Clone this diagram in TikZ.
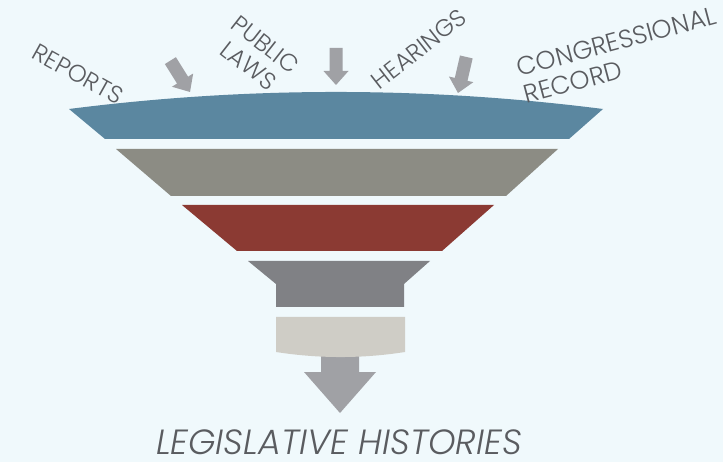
\documentclass[tikz,border=0pt]{standalone}
\usepackage{fontspec}
\newfontfamily\lblfont{Poppins Light}
\newfontfamily\lblitfont{Poppins Light Italic}
\definecolor{bgc}{RGB}{240,249,252}
\definecolor{bandblue}{RGB}{91,135,160}
\definecolor{bandgray}{RGB}{140,140,132}
\definecolor{bandred}{RGB}{139,58,51}
\definecolor{banddark}{RGB}{128,129,133}
\definecolor{bandlight}{RGB}{207,205,198}
\definecolor{arrowgray}{RGB}{160,161,165}
\definecolor{txt}{RGB}{90,92,96}
\tikzset{
  lbl/.style={font=\lblfont\fontsize{24}{27}\selectfont, text=txt, inner sep=0pt, align=center},
  inarrow/.style={fill=arrowgray},
}
\begin{document}
\begin{tikzpicture}[x=1pt,y=-1pt]
\fill[bgc] (0,0) rectangle (723,462);
\useasboundingbox (0,0) rectangle (723,462);
% funnel bands
\fill[bandblue] (69,109) .. controls (247,86.3) and (425,86.3) .. (603,109) -- (569,139) -- (105,139) -- cycle;
\fill[bandgray] (116,149) -- (558,149) -- (506,196) -- (171,196) -- cycle;
\fill[bandred] (182,205) -- (494,205) -- (442,251) -- (237,251) -- cycle;
\fill[banddark] (248,261) -- (430,261) -- (404,284) -- (404,307) -- (276,307) -- (276,284) -- cycle;
% output arrow
\fill[arrowgray] (321,350) -- (359,350) -- (359,372) -- (376,372) -- (340,413) -- (304,372) -- (321,372) -- cycle;
\fill[bandlight] (276,317) -- (405,317) -- (405,352) .. controls (362,358.7) and (319,358.7) .. (276,352) -- cycle;
% input arrows
\foreach \px/\py/\ang in {190/92/32, 336/85/0, 458/93/-13}{
  \fill[inarrow, shift={(\px,\py)}, rotate=\ang] (0,0) -- (-12.5,-14) -- (-6.5,-14) -- (-6.5,-37) -- (6.5,-37) -- (6.5,-14) -- (12.5,-14) -- cycle;
}
% labels
\node[lbl, rotate=-29] (reports) at (78,74) {REPORTS};
\node[lbl, rotate=-38] (laws) at (257,55) {PUBLIC\\LAWS};
\node[lbl, rotate=38] (hearings) at (419,49) {HEARINGS};
\node[lbl, font=\lblfont\fontsize{25.5}{28}\selectfont, rotate=15, align=left] (record) at (620,55) {CONGRESSIONAL\\RECORD};
\node[font=\lblitfont\fontsize{35}{38}\selectfont, text=txt, inner sep=0pt, text depth=0pt, anchor=base] (hist) at (339,454) {LEGISLATIVE HISTORIES};
\end{tikzpicture}
\end{document}
